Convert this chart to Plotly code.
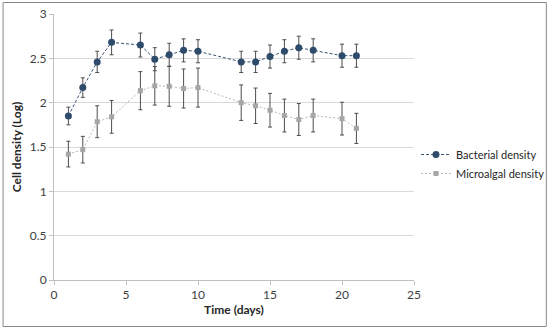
import plotly.graph_objects as go

days = [1, 2, 3, 4, 6, 7, 8, 9, 10, 13, 14, 15, 16, 17, 18, 20, 21]
bacterial = [1.85, 2.17, 2.46, 2.68, 2.65, 2.49, 2.54, 2.59, 2.58, 2.46, 2.46, 2.52, 2.58, 2.62, 2.59, 2.53, 2.53]
bacterial_err = [0.10, 0.11, 0.12, 0.14, 0.135, 0.13, 0.13, 0.13, 0.13, 0.12, 0.12, 0.13, 0.13, 0.13, 0.13, 0.13, 0.13]
microalgal = [1.42, 1.47, 1.785, 1.84, 2.135, 2.19, 2.185, 2.16, 2.17, 2.0, 1.965, 1.915, 1.855, 1.81, 1.855, 1.82, 1.71]
microalgal_err = [0.145, 0.15, 0.18, 0.185, 0.215, 0.217, 0.225, 0.22, 0.22, 0.2, 0.2, 0.19, 0.185, 0.18, 0.185, 0.185, 0.17]

FONT = "Lato, Open Sans, sans-serif"
W, H = 550, 330
L, R, T, B = 53.5, 136, 14, 50

fig = go.Figure()
fig.add_trace(go.Scatter(
    x=days, y=bacterial, name="Bacterial density", mode="lines+markers",
    line=dict(color="#3a5473", width=1, dash="3px,2px"),
    marker=dict(color="#2f4b6c", size=7, symbol="circle"),
    error_y=dict(type="data", array=bacterial_err, visible=True, color="#4d4d4d", thickness=1, width=2),
))
fig.add_trace(go.Scatter(
    x=days, y=microalgal, name="Microalgal density", mode="lines+markers",
    line=dict(color="#b8b8b8", width=1, dash="2px,2px"),
    marker=dict(color="#a6a6a6", size=5, symbol="square"),
    error_y=dict(type="data", array=microalgal_err, visible=True, color="#4d4d4d", thickness=1, width=2),
))

pw = W - L - R
ph = H - T - B
def px_x(p):
    return (p - L) / pw
def px_y(p):
    return 1 - (p - T) / ph

fig.add_shape(type="rect", xref="paper", yref="paper",
              x0=px_x(2.5), x1=px_x(546.5), y0=px_y(326.5), y1=px_y(2.5),
              line=dict(color="#888888", width=1), fillcolor="rgba(0,0,0,0)", layer="below")

fig.update_layout(
    width=W, height=H,
    margin=dict(l=L, r=R, t=T, b=B, autoexpand=False),
    paper_bgcolor="white", plot_bgcolor="white",
    font=dict(family=FONT, size=12, color="#404040"),
    showlegend=True,
    legend=dict(x=px_x(416), y=px_y(140), xanchor="left", yanchor="top",
                font=dict(family=FONT, size=11, color="#262626"),
                bgcolor="rgba(0,0,0,0)", itemwidth=30, tracegroupgap=0),
    xaxis=dict(range=[0, 25], tickvals=[0, 5, 10, 15, 20, 25], showgrid=False,
               showline=True, linecolor="#bfbfbf", linewidth=1, automargin=False,
               ticks="outside", ticklen=4, tickcolor="#bfbfbf",
               tickfont=dict(size=12, color="#404040"), zeroline=False,
               title=dict(text="<b>Time (days)</b>", font=dict(size=12, color="#262626"), standoff=4)),
    yaxis=dict(range=[0, 3], tickvals=[0, 0.5, 1, 1.5, 2, 2.5, 3],
               ticktext=["0", "0.5", "1", "1.5", "2", "2.5", "3"],
               showgrid=True, gridcolor="#d9d9d9", gridwidth=1, automargin=False,
               showline=True, linecolor="#bfbfbf", linewidth=1,
               ticks="outside", ticklen=4, tickcolor="#bfbfbf",
               tickfont=dict(size=12, color="#404040"), zeroline=False,
               title=dict(text="<b>Cell density (Log)</b>", font=dict(size=12, color="#262626"), standoff=5)),
)

fig.write_html("out.html", config={"displayModeBar": False},
               post_script="document.body.style.margin='0';")
